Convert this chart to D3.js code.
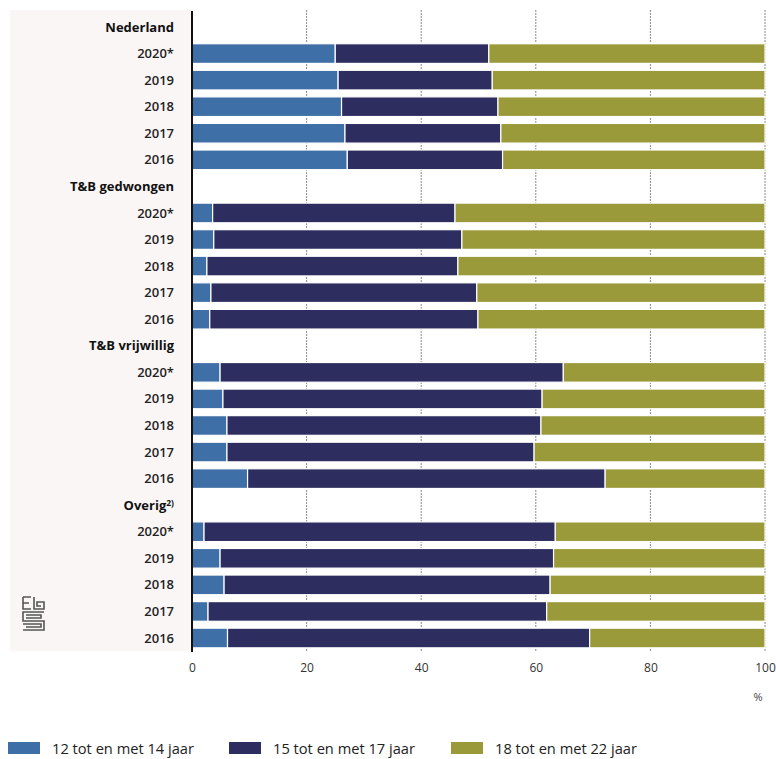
<!DOCTYPE html>
<html>
<head>
<meta charset="utf-8">
<script src="https://cdn.jsdelivr.net/npm/d3@7"></script>
<style>
  html, body { margin: 0; padding: 0; background: #ffffff; }
  svg { display: block; }
</style>
</head>
<body>
<svg id="chart" width="776" height="759"></svg>
<script>
// ---- data ----
const groups = ["Nederland", "T&B gedwongen", "T&B vrijwillig", "Overig"];
const years = ["2020*", "2019", "2018", "2017", "2016"];
const seriesNames = ["12 tot en met 14 jaar", "15 tot en met 17 jaar", "18 tot en met 22 jaar"];
// share 12-14 per group, rows in the order of `years`
const age12to14 = [
  [25.0, 25.5, 26.1, 26.7, 27.1],
  [3.6, 3.8, 2.6, 3.3, 3.1],
  [4.9, 5.4, 6.1, 6.1, 9.7],
  [2.1, 4.9, 5.6, 2.8, 6.2]
];
const age15to17 = [
  [26.8, 26.9, 27.3, 27.2, 27.1],
  [42.3, 43.3, 43.8, 46.4, 46.8],
  [59.9, 55.7, 54.8, 53.6, 62.4],
  [61.3, 58.2, 56.9, 59.1, 63.2]
];
const age18to22 = [
  [48.2, 47.6, 46.6, 46.1, 45.8],
  [54.1, 52.9, 53.6, 50.3, 50.1],
  [35.2, 38.9, 39.1, 40.3, 27.9],
  [36.6, 36.9, 37.5, 38.1, 30.6]
];
const xTicks = [0, 20, 40, 60, 80, 100];
const colors = ["#3f6fa7", "#2d2e5f", "#9b9a3b"];

// ---- build rows ----
const rows = [];
groups.forEach((g, gi) => {
  rows.push({ id: "h" + gi, label: g, header: true });
  years.forEach((yr, yi) => {
    rows.push({ id: "r" + gi + "_" + yi, label: yr, header: false,
      values: [age12to14[gi][yi], age15to17[gi][yi], age18to22[gi][yi]] });
  });
});

const svg = d3.select("#chart");
const fontLabel = "'Open Sans', 'DejaVu Sans', sans-serif";

const x = d3.scaleLinear().domain([0, 100]).range([192, 765]);
const y = d3.scalePoint().domain(rows.map(r => r.id)).range([27, 638]);
const barH = y.step() * 0.74;

// left tinted panel
svg.append("rect").attr("x", 10).attr("y", 10).attr("width", 181).attr("height", 641)
  .attr("fill", "#faf6f6");

// gridlines
const gridTicks = xTicks.filter(t => t > 0);
svg.append("g").selectAll("line").data(gridTicks).join("line")
  .attr("x1", d => x(d)).attr("x2", d => x(d))
  .attr("y1", 10).attr("y2", 651)
  .attr("stroke", "#8a8a8a").attr("stroke-width", 1)
  .attr("stroke-dasharray", "2,1");

// bars
const stack = d3.stack().keys([0, 1, 2]).value((d, k) => d.values[k]);
const dataRows = rows.filter(r => !r.header);
const stacked = stack(dataRows);
svg.append("g").selectAll("g").data(stacked).join("g")
  .attr("fill", (d, i) => colors[i])
  .selectAll("rect").data(d => d).join("rect")
  .attr("x", d => x(d[0]))
  .attr("width", d => Math.max(0, x(d[1]) - x(d[0])))
  .attr("y", d => y(d.data.id) - barH / 2)
  .attr("height", barH)
  .attr("stroke", "#ffffff").attr("stroke-width", 1.2);

// axis line
svg.append("line").attr("x1", 192).attr("x2", 192).attr("y1", 11).attr("y2", 652)
  .attr("stroke", "#111").attr("stroke-width", 2);

// category labels
const lab = svg.append("g").selectAll("text").data(rows).join("text")
  .attr("x", 174).attr("y", d => y(d.id)).attr("dy", "0.35em")
  .attr("text-anchor", "end")
  .attr("font-family", fontLabel)
  .attr("font-size", 13)
  .attr("font-weight", d => d.header ? 700 : 600)
  .attr("fill", d => d.header ? "#111" : "#222")
  .text(d => d.label);
lab.filter(d => d.label === "Overig").append("tspan")
  .attr("dy", "-0.45em").attr("font-size", 8.5).text("2)");

// x axis tick labels
const xAxis = d3.axisBottom(x).tickValues(xTicks).tickSize(0).tickPadding(0);
const gx = svg.append("g").attr("transform", "translate(0,663)").call(xAxis);
gx.select(".domain").remove();
gx.selectAll("text").attr("font-family", fontLabel).attr("font-size", 12)
  .attr("fill", "#333");
svg.append("text").attr("x", 758).attr("y", 701).attr("text-anchor", "middle")
  .attr("font-family", fontLabel).attr("font-size", 11).attr("fill", "#444").text("%");

// CBS logo (simplified)
const logo = svg.append("g").attr("transform", "translate(23,597)")
  .attr("fill", "none").attr("stroke", "#555").attr("stroke-width", 1.6);
logo.append("path").attr("d", "M0,0 H8 M0,0 V12 H8 M0,6 H6");
logo.append("path").attr("d", "M11,0 V12 H21 V5 H14 V9 H18");
logo.append("path").attr("d", "M21,15 H0 V24 H21 V33 H0 M3,18 H18 V21 H3 M0,27 H18 V30 H3");

// legend
const lx = [8, 229, 451];
const leg = svg.append("g").selectAll("g").data(seriesNames).join("g")
  .attr("transform", (d, i) => `translate(${lx[i]},742)`);
leg.append("rect").attr("width", 32).attr("height", 12).attr("fill", (d, i) => colors[i]);
leg.append("text").attr("x", 44).attr("y", 11.5)
  .attr("font-family", fontLabel).attr("font-size", 15).attr("fill", "#222")
  .attr("textLength", 142).attr("lengthAdjust", "spacingAndGlyphs")
  .text(d => d);
</script>
</body>
</html>
